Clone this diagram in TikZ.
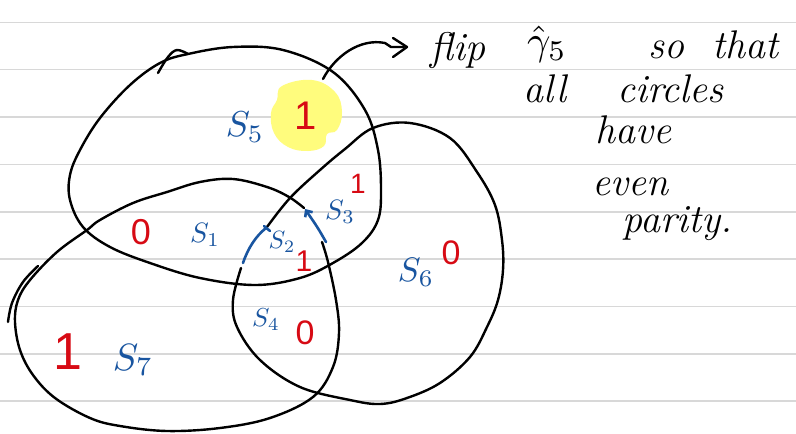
\documentclass[tikz,border=0pt]{standalone}
\usepackage{graphicx}
\usepackage{fontspec}
\newfontfamily\digitfont{Liberation Sans}
\usetikzlibrary{arrows.meta}
\definecolor{inkblue}{RGB}{25,85,160}
\definecolor{inkred}{RGB}{215,10,20}
\definecolor{hilite}{RGB}{255,252,125}
\definecolor{rulegrey}{RGB}{216,216,216}
\tikzset{
  ink/.style={line width=2.4pt, line cap=round, line join=round, black},
  blueink/.style={line width=2.6pt, line cap=round, line join=round, inkblue},
  ruling/.style={rulegrey, line width=1.6pt},
  word/.style={font=\fontsize{40}{48}\selectfont\itshape, inner sep=0pt, anchor=base west},
  slabel/.style={text=inkblue, inner sep=0pt},
  bit/.style={text=inkred, inner sep=0pt},
}
\begin{document}
\begin{tikzpicture}[x=1pt,y=-1pt]
\useasboundingbox (0,0) rectangle (796,434);
\fill[white] (0,0) rectangle (796,434);
% ruled paper
\foreach \k in {0,...,8}
  \draw[ruling] (0,{22.3+47.35*\k}) -- (796,{22.3+47.35*\k});
% highlight
\fill[hilite] plot[smooth cycle, tension=0.7] coordinates {(282,86) (312,80) (335,92) (342,112) (337,130) (327,134) (324,146) (308,151) (288,147) (274,133) (271,113) (277,100)};
% top blob S5
\draw[ink] plot[smooth cycle, tension=0.6] coordinates {(188,54) (233,47) (283,50) (333,72) (365,110) (378,150) (381,190) (378,220) (362,243) (333,263) (300,278) (255,285) (200,278) (150,263) (110,247) (83,227) (70,200) (70,175) (80,150) (100,118) (130,85) (160,63)};
\draw[ink] plot[smooth, tension=0.6] coordinates {(158,73) (168,57) (177,50) (188,54)};
% bottom-left blob S7
\draw[ink] plot[smooth, tension=0.6] coordinates {(322,242) (328,262) (336,300) (339,333) (333,367) (313,397) (270,418) (220,428) (167,431) (120,426) (90,418) (55,398) (33,375) (20,350) (15,322) (18,300) (30,280) (57,252) (87,230) (100,220) (133,203) (167,192) (200,182) (233,179) (267,187) (289,197) (304,208)};
\draw[ink] plot[smooth, tension=0.6] coordinates {(38,266) (23,282) (12,303) (8,322)};
% right blob S6
\draw[ink] plot[smooth, tension=0.6] coordinates {(267,227) (290,198) (320,170) (345,149) (373,128) (410,123) (450,138) (477,172) (495,205) (502,240) (503,270) (498,300) (487,327) (470,357) (440,383) (407,398) (380,404) (350,400) (300,387) (260,360) (237,327) (233,300) (241,268)};
% blue strokes
\coordinate (bl1) at (243,263);
\coordinate (bl2) at (266,228);
\draw[blueink] (bl1) .. controls (248,248) and (256,236) .. (bl2);
\coordinate (bt1) at (264,226);
\coordinate (bt2) at (270,231);
\draw[blueink] (bt1) -- (bt2);
\coordinate (br1) at (326,242);
\coordinate (br2) at (305,209);
\draw[blueink, -{Straight Barb[length=5pt,width=9pt]}] (br1) .. controls (318,228) .. (br2);
% arrow to the note
\coordinate (a0) at (323,79);
\coordinate (a1) at (385,43);
\coordinate (a2) at (404,47);
\coordinate (h1) at (393,38);
\coordinate (h2) at (393,57);
\draw[ink] (a0) .. controls (335,56) and (360,38) .. (a1) -- (391,47) -- (a2);
\draw[ink] (h1) -- (407,47) -- (h2);
% labels
\node[slabel] (s5) at (245,127) {\scalebox{3.6}{$S_5$}};
\node[bit, font=\fontsize{40}{44}\selectfont\digitfont] (b5) at (306,116) {1};
\node[slabel] (s3) at (340,212) {\scalebox{2.8}{$S_3$}};
\node[bit, font=\fontsize{28}{32}\selectfont\digitfont] (b3) at (358,184) {1};
\node[bit, font=\fontsize{36}{40}\selectfont\digitfont] (b1) at (141,232) {0};
\node[slabel] (s1) at (205,235) {\scalebox{2.8}{$S_1$}};
\node[slabel] (s2) at (282,242) {\scalebox{2.5}{$S_2$}};
\node[bit, font=\fontsize{30}{34}\selectfont\digitfont] (b2) at (304,261) {1};
\node[slabel] (s6) at (416,272) {\scalebox{3.4}{$S_6$}};
\node[bit, font=\fontsize{34}{38}\selectfont\digitfont] (b6) at (451,253) {0};
\node[slabel] (s4) at (266,320) {\scalebox{2.6}{$S_4$}};
\node[bit, font=\fontsize{34}{38}\selectfont\digitfont] (b4) at (305,333) {0};
\node[bit, font=\fontsize{52}{58}\selectfont\digitfont] (b7) at (68,352) {1};
\node[slabel] (s7) at (133,360) {\scalebox{3.8}{$S_7$}};
% note text
\node[word] (w1) at (430,60) {flip};
\node[inner sep=0pt, anchor=base west, font=\normalsize] (w2) at (527,54) {\scalebox{4.1}{$\hat{\gamma}_5$}};
\node[word] (w3) at (648,58) {so};
\node[word] (w4) at (712,58) {that};
\node[word] (w5) at (523,102) {all};
\node[word] (w6) at (617,102) {circles};
\node[word] (w7) at (595,143) {have};
\node[word] (w8) at (592,195) {even};
\node[word] (w9) at (622,232) {parity.};
\end{tikzpicture}
\end{document}
